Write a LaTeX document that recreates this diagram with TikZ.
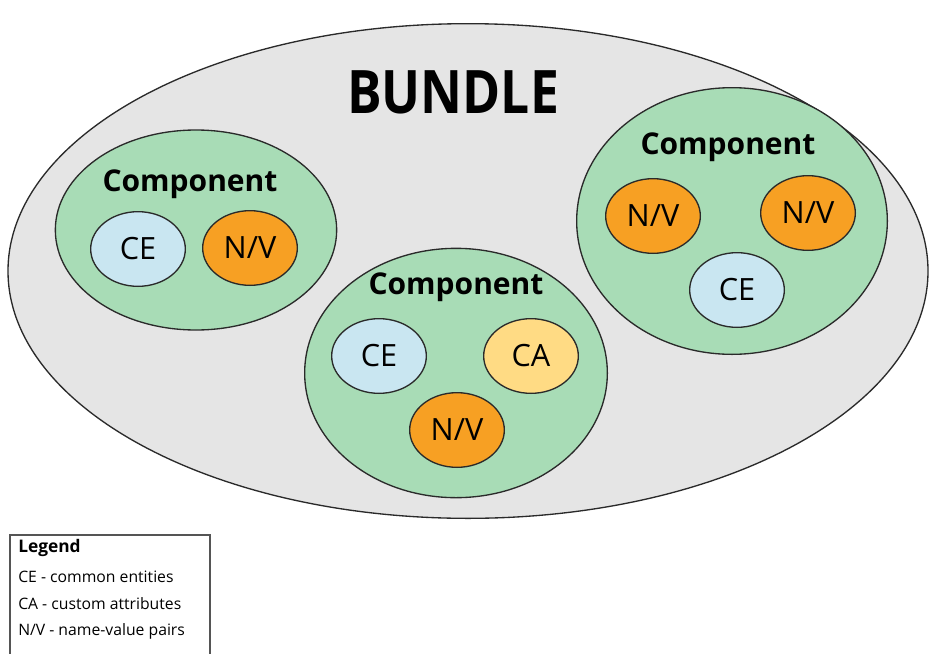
\documentclass[tikz,border=0pt]{standalone}
\usepackage{fontspec}
\setmainfont{Open Sans}
\usetikzlibrary{shapes.geometric}
\definecolor{bundlegray}{HTML}{E5E5E5}
\definecolor{compgreen}{HTML}{A8DCB6}
\definecolor{ceblue}{HTML}{C9E6F1}
\definecolor{nvorange}{HTML}{F7A023}
\definecolor{cayellow}{HTML}{FFDB84}
\definecolor{edge}{HTML}{2A2A2A}
\begin{document}
\begin{tikzpicture}[x=0.75pt,y=-0.75pt,
  blob/.style={ellipse, draw=edge, line width=1pt, inner sep=0pt},
  comp/.style={blob, fill=compgreen},
  small/.style={blob, minimum width=71pt, minimum height=56pt, font=\fontsize{23}{26}\selectfont},
  ce/.style={small, fill=ceblue},
  nv/.style={small, fill=nvorange},
  ca/.style={small, fill=cayellow},
  comptitle/.style={font=\fontsize{22.5}{26}\bfseries\selectfont, inner sep=0pt},
  legtext/.style={font=\fontsize{11.8}{14}\selectfont, anchor=west, inner sep=0pt}]
\useasboundingbox (0,0) rectangle (930,653);
\clip (0,0) rectangle (930,653);
\fill[white] (0,0) rectangle (930,653);
% bundle
\node[blob, fill=bundlegray, minimum width=690pt, minimum height=371pt] (bundle) at (468,271) {};
\node[font=\fontsize{45}{50}\bfseries\selectfont, inner sep=0pt] (btitle) at (453,92) {\scalebox{0.86}[1]{BUNDLE}};
% left component
\node[comp, minimum width=211pt, minimum height=150pt] (c1) at (196,230) {};
\node[comptitle] (t1) at (190,184) {Component};
\node[ce] (c1ce) at (138,249) {CE};
\node[nv] (c1nv) at (250,248) {N/V};
% middle component
\node[comp, minimum width=227pt, minimum height=187pt] (c2) at (456,373) {};
\node[comptitle] (t2) at (456,287) {Component};
\node[ce] (c2ce) at (379,356) {CE};
\node[ca] (c2ca) at (531,356) {CA};
\node[nv] (c2nv) at (457,430) {N/V};
% right component
\node[comp, minimum width=233pt, minimum height=200pt] (c3) at (732,221) {};
\node[comptitle] (t3) at (728,147) {Component};
\node[nv] (c3nv1) at (653,216) {N/V};
\node[nv] (c3nv2) at (808,213) {N/V};
\node[ce] (c3ce) at (737,290) {CE};
% legend
\draw[edge!80, line width=0.8pt] (10,665) -- (10,535) -- (210,535) -- (210,665);
\node[legtext, font=\fontsize{13}{15}\bfseries\selectfont] (lg) at (18,548) {Legend};
\node[legtext] (l1) at (18,577) {CE - common entities};
\node[legtext] (l2) at (18,604) {CA - custom attributes};
\node[legtext] (l3) at (18,631) {N/V - name-value pairs};
\end{tikzpicture}
\end{document}
